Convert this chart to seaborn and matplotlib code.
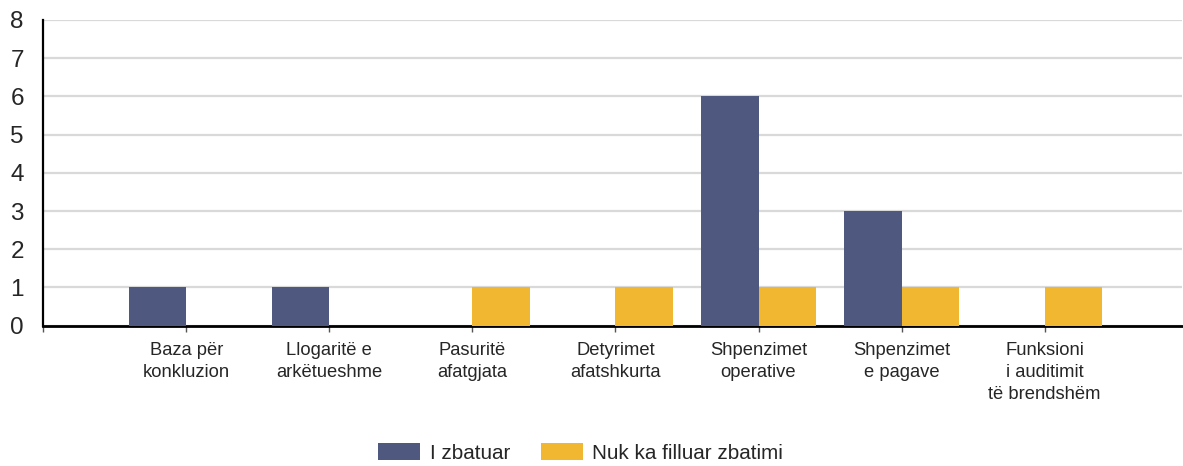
import matplotlib
matplotlib.use("Agg")
import matplotlib.pyplot as plt
import seaborn as sns
import pandas as pd

categories = ["Baza për\nkonkluzion", "Llogaritë e\narkëtueshme", "Pasuritë\nafatgjata",
              "Detyrimet\nafatshkurta", "Shpenzimet\noperative", "Shpenzimet\ne pagave",
              "Funksioni\ni auditimit\ntë brendshëm"]
series_names = ["I zbatuar", "Nuk ka filluar zbatimi"]
implemented = [1, 1, 0, 0, 6, 3, 0]
not_started = [0, 0, 1, 1, 1, 1, 1]
y_ticks = [0, 1, 2, 3, 4, 5, 6, 7, 8]
colors = ["#4F587E", "#F2B731"]

rows = []
for c, a, b in zip(categories, implemented, not_started):
    rows.append({"cat": c, "series": series_names[0], "value": a})
    rows.append({"cat": c, "series": series_names[1], "value": b})
df = pd.DataFrame(rows)

sns.set_theme(style="white")
plt.rcParams["font.family"] = ["Liberation Sans", "DejaVu Sans"]

fig = plt.figure(figsize=(11.83, 4.66), dpi=100)
ax = fig.add_axes([0.0366, 0.301, 0.9625, 0.6565])

sns.barplot(data=df, x="cat", y="value", hue="series", order=categories,
            hue_order=series_names, palette=colors, width=0.8, ax=ax,
            saturation=1, legend=True, zorder=3, linewidth=0, edgecolor="none")

ax.set_xlim(-1, 6.96)
ax.set_ylim(0, 8)
ax.set_yticks(y_ticks)
ax.set_yticklabels([str(t) for t in y_ticks], fontsize=17.5)
ax.set_xticks(range(-1, len(categories)))
ax.set_xticklabels([""] + categories, fontsize=13.2, linespacing=1.36)
ax.yaxis.grid(True, color="#D9D9D9", linewidth=1.6, zorder=0)
ax.set_axisbelow(True)
ax.set_xlabel("")
ax.set_ylabel("")
for s in ["top", "right"]:
    ax.spines[s].set_visible(False)
ax.spines["left"].set_color("black")
ax.spines["left"].set_linewidth(1.6)
ax.spines["bottom"].set_color("black")
ax.spines["bottom"].set_linewidth(2)
ax.tick_params(axis="y", length=9, width=1, color="#777777", pad=5)
ax.tick_params(axis="x", length=4, width=1, color="#555555", pad=8, bottom=True)

handles, labels = ax.get_legend_handles_labels()
ax.get_legend().remove()
fig.legend(handles, labels, loc="center", bbox_to_anchor=(0.491, 0.028), ncol=2,
           frameon=False, fontsize=14.9, handlelength=2.0, handleheight=0.92,
           columnspacing=1.5, handletextpad=0.48)

fig.savefig("out.png", dpi=100)
